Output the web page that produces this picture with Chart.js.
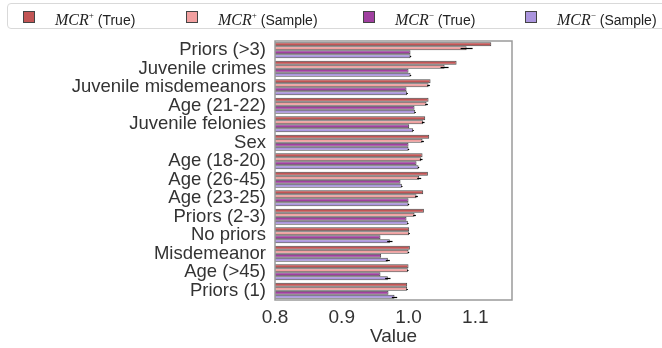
<!DOCTYPE html>
<html>
<head>
<meta charset="utf-8">
<script src="https://cdn.jsdelivr.net/npm/chart.js@4"></script>
<style>
  html, body { margin: 0; padding: 0; background: #fff; }
  #wrap { position: relative; width: 662px; height: 348px; overflow: hidden; }
  #legend {
    position: absolute; left: 7px; top: 3px; width: 680px; height: 26px;
    border: 1px solid #d9d9d9; border-radius: 4px; box-sizing: border-box;
    font-family: "Liberation Sans", Arial, sans-serif; font-size: 14px; color: #222;
  }
  .item { position: absolute; top: 0; height: 24px; line-height: 24px; white-space: nowrap; }
  .sw { position: absolute; top: 7px; width: 10px; height: 10px; border: 1px solid #444; }
  .mcr { font-family: "Liberation Serif", "DejaVu Serif", serif; font-style: italic; font-size: 16px; }
  .mcr sup { font-size: 9px; font-style: normal; position: relative; top: -1px; }
</style>
</head>
<body>
<div id="wrap">
  <canvas id="chart" width="662" height="348"></canvas>
  <div id="legend"></div>
</div>
<script>
const categories = ['Priors (>3)', 'Juvenile crimes', 'Juvenile misdemeanors', 'Age (21-22)',
  'Juvenile felonies', 'Sex', 'Age (18-20)', 'Age (26-45)', 'Age (23-25)', 'Priors (2-3)',
  'No priors', 'Misdemeanor', 'Age (>45)', 'Priors (1)'];

const seriesNames = ['(True)', '(Sample)', '(True)', '(Sample)'];
const seriesSigns = ['+', '+', '\u2212', '\u2212'];

const mcrPlusTrue    = [1.124, 1.072, 1.033, 1.030, 1.025, 1.031, 1.021, 1.029, 1.022, 1.023, 1.001, 1.002, 1.000, 0.998];
const mcrPlusSample  = [1.087, 1.054, 1.030, 1.027, 1.022, 1.021, 1.019, 1.016, 1.012, 1.009, 1.001, 1.000, 0.999, 0.998];
const mcrMinusTrue   = [1.003, 1.000, 0.997, 1.009, 1.001, 1.000, 1.012, 0.988, 1.000, 0.997, 0.958, 0.959, 0.958, 0.970];
const mcrMinusSample = [1.003, 1.003, 0.998, 1.010, 1.007, 1.000, 1.015, 0.990, 1.000, 0.999, 0.972, 0.969, 0.969, 0.979];

const errPlusSample  = [0.009, 0.006, 0.002, 0.002, 0.002, 0.002, 0.002, 0.003, 0.002, 0.002, 0.001, 0.001, 0.001, 0.001];
const errMinusSample = [0.001, 0.001, 0.001, 0.001, 0.001, 0.001, 0.001, 0.001, 0.001, 0.001, 0.004, 0.003, 0.004, 0.004];

const xTicks = [0.8, 0.9, 1.0, 1.1];

const colors = ['#c25555', '#f2a0a0', '#a040a0', '#ab95de'];

// html legend (math-style labels)
const legendLeft = [15, 178, 355, 517];
const legend = document.getElementById('legend');
seriesNames.forEach((name, i) => {
  const d = document.createElement('div');
  d.className = 'item';
  d.style.left = legendLeft[i] + 'px';
  d.innerHTML = '<span class="sw" style="left:0;background:' + colors[i] + '"></span>' +
    '<span style="margin-left:32px"><span class="mcr">MCR<sup>' + seriesSigns[i] + '</sup></span> ' + name + '</span>';
  legend.appendChild(d);
});

const errorBars = {
  id: 'errorBars',
  afterDatasetsDraw(chart) {
    const ctx = chart.ctx;
    const xs = chart.scales.x;
    ctx.save();
    ctx.strokeStyle = '#000';
    ctx.lineWidth = 1.2;
    chart.data.datasets.forEach((ds, di) => {
      if (!ds.errors) return;
      const meta = chart.getDatasetMeta(di);
      meta.data.forEach((bar, i) => {
        const e = ds.errors[i];
        if (!e) return;
        const x1 = xs.getPixelForValue(ds.data[i] - e);
        const x2 = xs.getPixelForValue(ds.data[i] + e);
        const y = Math.round(bar.y) + 0.5;
        ctx.beginPath();
        ctx.moveTo(x1, y); ctx.lineTo(x2, y);
        ctx.stroke();
      });
    });
    ctx.restore();
  }
};

const frame = {
  id: 'frame',
  afterDraw(chart) {
    const a = chart.chartArea;
    const ctx = chart.ctx;
    ctx.save();
    ctx.strokeStyle = '#9a9a9a';
    ctx.lineWidth = 1.5;
    ctx.strokeRect(a.left, a.top, a.right - a.left, a.bottom - a.top);
    ctx.restore();
  }
};

const allData = [mcrPlusTrue, mcrPlusSample, mcrMinusTrue, mcrMinusSample];
const allErr = [null, errPlusSample, null, errMinusSample];

new Chart(document.getElementById('chart'), {
  type: 'bar',
  data: {
    labels: categories,
    datasets: allData.map((d, i) => ({
      label: 'MCR' + seriesSigns[i] + ' ' + seriesNames[i],
      data: d,
      errors: allErr[i],
      backgroundColor: colors[i],
      borderColor: 'rgba(40,40,40,0.85)',
      borderWidth: 1,
      borderSkipped: false,
      categoryPercentage: 0.86,
      barPercentage: 1.0
    }))
  },
  options: {
    indexAxis: 'y',
    responsive: false,
    animation: false,
    layout: { padding: { top: 41, right: 150, left: 0, bottom: 0 } },
    plugins: { legend: { display: false }, tooltip: { enabled: false } },
    scales: {
      x: {
        min: 0.8,
        max: 1.155,
        afterBuildTicks: s => { s.ticks = xTicks.map(v => ({ value: v })); },
        afterFit: s => { s.height = 48; },
        grid: { display: false, drawTicks: false },
        border: { display: false },
        ticks: {
          color: '#333', padding: 6,
          font: { family: 'Liberation Sans, Arial, sans-serif', size: 19 },
          callback: v => v.toFixed(1)
        },
        title: {
          display: true, text: 'Value', color: '#333', padding: { top: 0, bottom: 0 },
          font: { family: 'Liberation Sans, Arial, sans-serif', size: 19 }
        }
      },
      y: {
        afterFit: s => { s.width = 275; },
        grid: { display: false, drawTicks: false },
        border: { display: false },
        ticks: {
          autoSkip: false, color: '#333', padding: 9,
          font: { family: 'Liberation Sans, Arial, sans-serif', size: 18.5 }
        }
      }
    }
  },
  plugins: [errorBars, frame]
});
</script>
</body>
</html>
